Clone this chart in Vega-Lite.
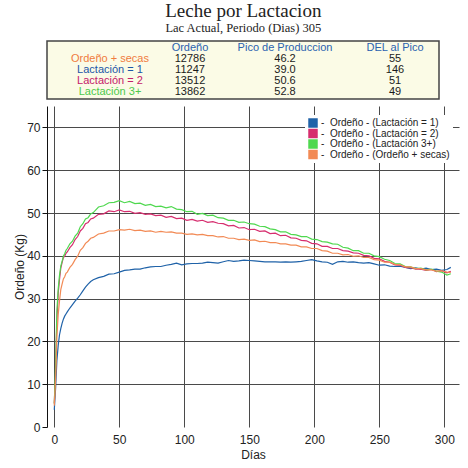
{
  "$schema": "https://vega.github.io/schema/vega-lite/v6.json",
  "background": "white",
  "padding": {"left": 13, "top": 1, "right": 5, "bottom": 4},
  "title": {
    "text": "Leche por Lactacion",
    "subtitle": "Lac Actual, Periodo (Dias) 305",
    "font": "Liberation Serif",
    "fontSize": 19,
    "fontWeight": "normal",
    "color": "#222",
    "subtitleFont": "Liberation Serif",
    "subtitleFontSize": 12.5,
    "subtitleColor": "#222",
    "subtitlePadding": 1,
    "anchor": "middle",
    "dx": 7,
    "offset": 6
  },
  "spacing": 6,
  "resolve": {"scale": {"color": "independent"}},
  "vconcat": [
    {
      "width": 392,
      "height": 58,
      "view": {"fill": "#fbfbe6", "stroke": "#444", "strokeWidth": 1.5},
      "data": {"values": [
        {"fila": "Encabezado", "col": "Ordeño", "texto": "Ordeño"},
        {"fila": "Encabezado", "col": "Pico de Produccion", "texto": "Pico de Produccion"},
        {"fila": "Encabezado", "col": "DEL al Pico", "texto": "DEL al Pico"},
        {"fila": "Ordeño + secas", "col": "Grupo", "texto": "Ordeño + secas"},
        {"fila": "Ordeño + secas", "col": "Ordeño", "texto": "12786"},
        {"fila": "Ordeño + secas", "col": "Pico de Produccion", "texto": "46.2"},
        {"fila": "Ordeño + secas", "col": "DEL al Pico", "texto": "55"},
        {"fila": "Lactación = 1", "col": "Grupo", "texto": "Lactación = 1"},
        {"fila": "Lactación = 1", "col": "Ordeño", "texto": "11247"},
        {"fila": "Lactación = 1", "col": "Pico de Produccion", "texto": "39.0"},
        {"fila": "Lactación = 1", "col": "DEL al Pico", "texto": "146"},
        {"fila": "Lactación = 2", "col": "Grupo", "texto": "Lactación = 2"},
        {"fila": "Lactación = 2", "col": "Ordeño", "texto": "13512"},
        {"fila": "Lactación = 2", "col": "Pico de Produccion", "texto": "50.6"},
        {"fila": "Lactación = 2", "col": "DEL al Pico", "texto": "51"},
        {"fila": "Lactación 3+", "col": "Grupo", "texto": "Lactación 3+"},
        {"fila": "Lactación 3+", "col": "Ordeño", "texto": "13862"},
        {"fila": "Lactación 3+", "col": "Pico de Produccion", "texto": "52.8"},
        {"fila": "Lactación 3+", "col": "DEL al Pico", "texto": "49"}
      ]},
      "encoding": {
        "x": {
          "field": "col", "type": "nominal",
          "scale": {"type": "point", "domain": ["Grupo", "Ordeño", "Pico de Produccion", "DEL al Pico"], "padding": 0.563},
          "axis": null
        },
        "y": {
          "field": "fila", "type": "nominal",
          "scale": {"type": "point", "domain": ["Encabezado", "Ordeño + secas", "Lactación = 1", "Lactación = 2", "Lactación 3+"], "padding": 0.664},
          "axis": null
        },
        "text": {"field": "texto"},
        "color": {
          "condition": [
            {"test": "datum.fila === 'Encabezado'", "value": "#2a62b0"},
            {"test": "datum.col !== 'Grupo'", "value": "#1a1a1a"}
          ],
          "field": "fila", "type": "nominal",
          "scale": {"domain": ["Ordeño + secas", "Lactación = 1", "Lactación = 2", "Lactación 3+"], "range": ["#f07c3e", "#1c56a6", "#c4206a", "#4cc94c"]},
          "legend": null
        }
      },
      "layer": [
        {
          "transform": [{"filter": "datum.col === 'Grupo' || datum.col === 'DEL al Pico'"}],
          "mark": {"type": "text", "font": "Liberation Sans", "fontSize": 11, "dx": 9.5}
        },
        {
          "transform": [{"filter": "datum.col === 'Ordeño' || datum.col === 'Pico de Produccion'"}],
          "mark": {"type": "text", "font": "Liberation Sans", "fontSize": 11, "dx": -5.5}
        }
      ]
    },
    {
      "width": 412,
      "height": 321,
      "view": {"stroke": null},
      "data": {"values": [
        {"dia":0,"grupo":"Lactación = 1","kg":4},{"dia":1,"grupo":"Lactación = 1","kg":9},{"dia":2,"grupo":"Lactación = 1","kg":15.5},{"dia":3,"grupo":"Lactación = 1","kg":19},{"dia":4,"grupo":"Lactación = 1","kg":21.5},{"dia":5,"grupo":"Lactación = 1","kg":23},{"dia":6,"grupo":"Lactación = 1","kg":24.2},{"dia":7,"grupo":"Lactación = 1","kg":25.2},{"dia":8,"grupo":"Lactación = 1","kg":25.9},{"dia":9,"grupo":"Lactación = 1","kg":26.4},{"dia":10,"grupo":"Lactación = 1","kg":26.9},{"dia":12,"grupo":"Lactación = 1","kg":27.8},{"dia":14,"grupo":"Lactación = 1","kg":28.6},{"dia":16,"grupo":"Lactación = 1","kg":29.4},{"dia":18,"grupo":"Lactación = 1","kg":30.1},{"dia":20,"grupo":"Lactación = 1","kg":30.9},{"dia":22,"grupo":"Lactación = 1","kg":31.8},{"dia":24,"grupo":"Lactación = 1","kg":32.7},{"dia":26,"grupo":"Lactación = 1","kg":33.4},{"dia":28,"grupo":"Lactación = 1","kg":34.0},{"dia":30,"grupo":"Lactación = 1","kg":34.4},{"dia":34,"grupo":"Lactación = 1","kg":34.9},{"dia":38,"grupo":"Lactación = 1","kg":35.2},{"dia":42,"grupo":"Lactación = 1","kg":35.7},{"dia":46,"grupo":"Lactación = 1","kg":35.8},{"dia":50,"grupo":"Lactación = 1","kg":36.2},{"dia":54,"grupo":"Lactación = 1","kg":36.6},{"dia":58,"grupo":"Lactación = 1","kg":36.7},{"dia":62,"grupo":"Lactación = 1","kg":36.9},{"dia":66,"grupo":"Lactación = 1","kg":36.9},{"dia":70,"grupo":"Lactación = 1","kg":37.2},{"dia":74,"grupo":"Lactación = 1","kg":37.4},{"dia":78,"grupo":"Lactación = 1","kg":37.5},{"dia":82,"grupo":"Lactación = 1","kg":37.5},{"dia":86,"grupo":"Lactación = 1","kg":37.8},{"dia":90,"grupo":"Lactación = 1","kg":38.0},{"dia":94,"grupo":"Lactación = 1","kg":38.3},{"dia":98,"grupo":"Lactación = 1","kg":37.9},{"dia":102,"grupo":"Lactación = 1","kg":38.1},{"dia":106,"grupo":"Lactación = 1","kg":38.2},{"dia":110,"grupo":"Lactación = 1","kg":38.2},{"dia":114,"grupo":"Lactación = 1","kg":38.3},{"dia":118,"grupo":"Lactación = 1","kg":38.5},{"dia":122,"grupo":"Lactación = 1","kg":38.4},{"dia":126,"grupo":"Lactación = 1","kg":38.3},{"dia":130,"grupo":"Lactación = 1","kg":38.6},{"dia":134,"grupo":"Lactación = 1","kg":38.9},{"dia":138,"grupo":"Lactación = 1","kg":38.7},{"dia":142,"grupo":"Lactación = 1","kg":38.8},{"dia":146,"grupo":"Lactación = 1","kg":39.0},{"dia":150,"grupo":"Lactación = 1","kg":38.9},{"dia":154,"grupo":"Lactación = 1","kg":38.8},{"dia":158,"grupo":"Lactación = 1","kg":38.7},{"dia":162,"grupo":"Lactación = 1","kg":38.6},{"dia":166,"grupo":"Lactación = 1","kg":38.6},{"dia":170,"grupo":"Lactación = 1","kg":38.6},{"dia":174,"grupo":"Lactación = 1","kg":38.5},{"dia":178,"grupo":"Lactación = 1","kg":38.6},{"dia":182,"grupo":"Lactación = 1","kg":38.5},{"dia":186,"grupo":"Lactación = 1","kg":38.6},{"dia":190,"grupo":"Lactación = 1","kg":38.7},{"dia":194,"grupo":"Lactación = 1","kg":38.9},{"dia":198,"grupo":"Lactación = 1","kg":39.1},{"dia":202,"grupo":"Lactación = 1","kg":38.8},{"dia":206,"grupo":"Lactación = 1","kg":38.6},{"dia":210,"grupo":"Lactación = 1","kg":38.5},{"dia":214,"grupo":"Lactación = 1","kg":38.0},{"dia":218,"grupo":"Lactación = 1","kg":38.6},{"dia":222,"grupo":"Lactación = 1","kg":38.7},{"dia":226,"grupo":"Lactación = 1","kg":38.5},{"dia":230,"grupo":"Lactación = 1","kg":38.6},{"dia":234,"grupo":"Lactación = 1","kg":38.4},{"dia":238,"grupo":"Lactación = 1","kg":38.3},{"dia":242,"grupo":"Lactación = 1","kg":38.4},{"dia":246,"grupo":"Lactación = 1","kg":38.1},{"dia":250,"grupo":"Lactación = 1","kg":37.8},{"dia":254,"grupo":"Lactación = 1","kg":37.9},{"dia":258,"grupo":"Lactación = 1","kg":37.6},{"dia":262,"grupo":"Lactación = 1","kg":37.5},{"dia":266,"grupo":"Lactación = 1","kg":37.6},{"dia":270,"grupo":"Lactación = 1","kg":37.3},{"dia":274,"grupo":"Lactación = 1","kg":37.0},{"dia":278,"grupo":"Lactación = 1","kg":37.2},{"dia":282,"grupo":"Lactación = 1","kg":36.9},{"dia":286,"grupo":"Lactación = 1","kg":37.1},{"dia":290,"grupo":"Lactación = 1","kg":36.8},{"dia":294,"grupo":"Lactación = 1","kg":36.9},{"dia":298,"grupo":"Lactación = 1","kg":36.6},{"dia":302,"grupo":"Lactación = 1","kg":36.8},{"dia":305,"grupo":"Lactación = 1","kg":37.3},
        {"dia":0,"grupo":"Lactación = 2","kg":5.5},{"dia":1,"grupo":"Lactación = 2","kg":13.0},{"dia":2,"grupo":"Lactación = 2","kg":25.0},{"dia":3,"grupo":"Lactación = 2","kg":31.2},{"dia":4,"grupo":"Lactación = 2","kg":34.4},{"dia":5,"grupo":"Lactación = 2","kg":37.1},{"dia":6,"grupo":"Lactación = 2","kg":38.4},{"dia":7,"grupo":"Lactación = 2","kg":39.6},{"dia":8,"grupo":"Lactación = 2","kg":39.9},{"dia":9,"grupo":"Lactación = 2","kg":40.6},{"dia":10,"grupo":"Lactación = 2","kg":40.9},{"dia":12,"grupo":"Lactación = 2","kg":41.9},{"dia":14,"grupo":"Lactación = 2","kg":42.6},{"dia":16,"grupo":"Lactación = 2","kg":43.8},{"dia":18,"grupo":"Lactación = 2","kg":44.5},{"dia":20,"grupo":"Lactación = 2","kg":45.8},{"dia":22,"grupo":"Lactación = 2","kg":46.4},{"dia":24,"grupo":"Lactación = 2","kg":47.5},{"dia":26,"grupo":"Lactación = 2","kg":47.8},{"dia":28,"grupo":"Lactación = 2","kg":48.6},{"dia":30,"grupo":"Lactación = 2","kg":48.8},{"dia":34,"grupo":"Lactación = 2","kg":49.7},{"dia":38,"grupo":"Lactación = 2","kg":49.8},{"dia":42,"grupo":"Lactación = 2","kg":50.5},{"dia":46,"grupo":"Lactación = 2","kg":50.3},{"dia":50,"grupo":"Lactación = 2","kg":50.7},{"dia":54,"grupo":"Lactación = 2","kg":50.3},{"dia":58,"grupo":"Lactación = 2","kg":50.4},{"dia":62,"grupo":"Lactación = 2","kg":49.9},{"dia":66,"grupo":"Lactación = 2","kg":50.1},{"dia":70,"grupo":"Lactación = 2","kg":49.7},{"dia":74,"grupo":"Lactación = 2","kg":49.8},{"dia":78,"grupo":"Lactación = 2","kg":49.4},{"dia":82,"grupo":"Lactación = 2","kg":49.5},{"dia":86,"grupo":"Lactación = 2","kg":49.0},{"dia":90,"grupo":"Lactación = 2","kg":49.2},{"dia":94,"grupo":"Lactación = 2","kg":48.7},{"dia":98,"grupo":"Lactación = 2","kg":48.8},{"dia":102,"grupo":"Lactación = 2","kg":48.3},{"dia":106,"grupo":"Lactación = 2","kg":48.5},{"dia":110,"grupo":"Lactación = 2","kg":48.1},{"dia":114,"grupo":"Lactación = 2","kg":48.3},{"dia":118,"grupo":"Lactación = 2","kg":47.8},{"dia":122,"grupo":"Lactación = 2","kg":48.0},{"dia":126,"grupo":"Lactación = 2","kg":47.6},{"dia":130,"grupo":"Lactación = 2","kg":47.5},{"dia":134,"grupo":"Lactación = 2","kg":47.0},{"dia":138,"grupo":"Lactación = 2","kg":47.1},{"dia":142,"grupo":"Lactación = 2","kg":46.5},{"dia":146,"grupo":"Lactación = 2","kg":46.6},{"dia":150,"grupo":"Lactación = 2","kg":46.1},{"dia":154,"grupo":"Lactación = 2","kg":46.2},{"dia":158,"grupo":"Lactación = 2","kg":45.7},{"dia":162,"grupo":"Lactación = 2","kg":45.8},{"dia":166,"grupo":"Lactación = 2","kg":45.2},{"dia":170,"grupo":"Lactación = 2","kg":45.3},{"dia":174,"grupo":"Lactación = 2","kg":44.7},{"dia":178,"grupo":"Lactación = 2","kg":44.8},{"dia":182,"grupo":"Lactación = 2","kg":44.2},{"dia":186,"grupo":"Lactación = 2","kg":44.1},{"dia":190,"grupo":"Lactación = 2","kg":43.6},{"dia":194,"grupo":"Lactación = 2","kg":43.5},{"dia":198,"grupo":"Lactación = 2","kg":42.9},{"dia":202,"grupo":"Lactación = 2","kg":42.8},{"dia":206,"grupo":"Lactación = 2","kg":42.2},{"dia":210,"grupo":"Lactación = 2","kg":42.2},{"dia":214,"grupo":"Lactación = 2","kg":41.7},{"dia":218,"grupo":"Lactación = 2","kg":41.7},{"dia":222,"grupo":"Lactación = 2","kg":41.2},{"dia":226,"grupo":"Lactación = 2","kg":41.1},{"dia":230,"grupo":"Lactación = 2","kg":40.7},{"dia":234,"grupo":"Lactación = 2","kg":40.6},{"dia":238,"grupo":"Lactación = 2","kg":40.1},{"dia":242,"grupo":"Lactación = 2","kg":40.0},{"dia":246,"grupo":"Lactación = 2","kg":39.4},{"dia":250,"grupo":"Lactación = 2","kg":39.3},{"dia":254,"grupo":"Lactación = 2","kg":38.7},{"dia":258,"grupo":"Lactación = 2","kg":38.5},{"dia":262,"grupo":"Lactación = 2","kg":37.9},{"dia":266,"grupo":"Lactación = 2","kg":37.8},{"dia":270,"grupo":"Lactación = 2","kg":37.3},{"dia":274,"grupo":"Lactación = 2","kg":37.2},{"dia":278,"grupo":"Lactación = 2","kg":36.9},{"dia":282,"grupo":"Lactación = 2","kg":36.9},{"dia":286,"grupo":"Lactación = 2","kg":36.6},{"dia":290,"grupo":"Lactación = 2","kg":36.8},{"dia":294,"grupo":"Lactación = 2","kg":36.3},{"dia":298,"grupo":"Lactación = 2","kg":36.5},{"dia":302,"grupo":"Lactación = 2","kg":36.0},{"dia":305,"grupo":"Lactación = 2","kg":36.4},
        {"dia":0,"grupo":"Lactación 3+","kg":5.5},{"dia":1,"grupo":"Lactación 3+","kg":14.0},{"dia":2,"grupo":"Lactación 3+","kg":27.0},{"dia":3,"grupo":"Lactación 3+","kg":32.2},{"dia":4,"grupo":"Lactación 3+","kg":35.4},{"dia":5,"grupo":"Lactación 3+","kg":37.6},{"dia":6,"grupo":"Lactación 3+","kg":38.7},{"dia":7,"grupo":"Lactación 3+","kg":39.9},{"dia":8,"grupo":"Lactación 3+","kg":40.5},{"dia":9,"grupo":"Lactación 3+","kg":41.3},{"dia":10,"grupo":"Lactación 3+","kg":41.7},{"dia":12,"grupo":"Lactación 3+","kg":42.8},{"dia":14,"grupo":"Lactación 3+","kg":43.4},{"dia":16,"grupo":"Lactación 3+","kg":44.6},{"dia":18,"grupo":"Lactación 3+","kg":45.3},{"dia":20,"grupo":"Lactación 3+","kg":46.8},{"dia":22,"grupo":"Lactación 3+","kg":47.5},{"dia":24,"grupo":"Lactación 3+","kg":48.6},{"dia":26,"grupo":"Lactación 3+","kg":48.9},{"dia":28,"grupo":"Lactación 3+","kg":49.8},{"dia":30,"grupo":"Lactación 3+","kg":50.1},{"dia":34,"grupo":"Lactación 3+","kg":51.4},{"dia":38,"grupo":"Lactación 3+","kg":51.7},{"dia":42,"grupo":"Lactación 3+","kg":52.4},{"dia":46,"grupo":"Lactación 3+","kg":52.5},{"dia":50,"grupo":"Lactación 3+","kg":52.9},{"dia":54,"grupo":"Lactación 3+","kg":52.4},{"dia":58,"grupo":"Lactación 3+","kg":52.7},{"dia":62,"grupo":"Lactación 3+","kg":52.2},{"dia":66,"grupo":"Lactación 3+","kg":52.3},{"dia":70,"grupo":"Lactación 3+","kg":51.8},{"dia":74,"grupo":"Lactación 3+","kg":52.0},{"dia":78,"grupo":"Lactación 3+","kg":51.5},{"dia":82,"grupo":"Lactación 3+","kg":51.6},{"dia":86,"grupo":"Lactación 3+","kg":51.2},{"dia":90,"grupo":"Lactación 3+","kg":51.5},{"dia":94,"grupo":"Lactación 3+","kg":50.9},{"dia":98,"grupo":"Lactación 3+","kg":50.8},{"dia":102,"grupo":"Lactación 3+","kg":50.3},{"dia":106,"grupo":"Lactación 3+","kg":50.4},{"dia":110,"grupo":"Lactación 3+","kg":49.7},{"dia":114,"grupo":"Lactación 3+","kg":49.9},{"dia":118,"grupo":"Lactación 3+","kg":49.4},{"dia":122,"grupo":"Lactación 3+","kg":49.5},{"dia":126,"grupo":"Lactación 3+","kg":48.9},{"dia":130,"grupo":"Lactación 3+","kg":48.8},{"dia":134,"grupo":"Lactación 3+","kg":48.3},{"dia":138,"grupo":"Lactación 3+","kg":48.3},{"dia":142,"grupo":"Lactación 3+","kg":47.8},{"dia":146,"grupo":"Lactación 3+","kg":47.9},{"dia":150,"grupo":"Lactación 3+","kg":47.5},{"dia":154,"grupo":"Lactación 3+","kg":47.4},{"dia":158,"grupo":"Lactación 3+","kg":46.9},{"dia":162,"grupo":"Lactación 3+","kg":46.8},{"dia":166,"grupo":"Lactación 3+","kg":46.3},{"dia":170,"grupo":"Lactación 3+","kg":46.1},{"dia":174,"grupo":"Lactación 3+","kg":45.6},{"dia":178,"grupo":"Lactación 3+","kg":45.6},{"dia":182,"grupo":"Lactación 3+","kg":45.0},{"dia":186,"grupo":"Lactación 3+","kg":44.9},{"dia":190,"grupo":"Lactación 3+","kg":44.5},{"dia":194,"grupo":"Lactación 3+","kg":44.5},{"dia":198,"grupo":"Lactación 3+","kg":43.9},{"dia":202,"grupo":"Lactación 3+","kg":43.8},{"dia":206,"grupo":"Lactación 3+","kg":43.3},{"dia":210,"grupo":"Lactación 3+","kg":43.2},{"dia":214,"grupo":"Lactación 3+","kg":42.8},{"dia":218,"grupo":"Lactación 3+","kg":42.7},{"dia":222,"grupo":"Lactación 3+","kg":42.0},{"dia":226,"grupo":"Lactación 3+","kg":41.8},{"dia":230,"grupo":"Lactación 3+","kg":41.2},{"dia":234,"grupo":"Lactación 3+","kg":41.2},{"dia":238,"grupo":"Lactación 3+","kg":40.6},{"dia":242,"grupo":"Lactación 3+","kg":40.6},{"dia":246,"grupo":"Lactación 3+","kg":40.0},{"dia":250,"grupo":"Lactación 3+","kg":39.8},{"dia":254,"grupo":"Lactación 3+","kg":39.2},{"dia":258,"grupo":"Lactación 3+","kg":38.9},{"dia":262,"grupo":"Lactación 3+","kg":38.2},{"dia":266,"grupo":"Lactación 3+","kg":38.1},{"dia":270,"grupo":"Lactación 3+","kg":37.5},{"dia":274,"grupo":"Lactación 3+","kg":37.4},{"dia":278,"grupo":"Lactación 3+","kg":37.0},{"dia":282,"grupo":"Lactación 3+","kg":37.1},{"dia":286,"grupo":"Lactación 3+","kg":36.7},{"dia":290,"grupo":"Lactación 3+","kg":36.9},{"dia":294,"grupo":"Lactación 3+","kg":36.4},{"dia":298,"grupo":"Lactación 3+","kg":36.2},{"dia":302,"grupo":"Lactación 3+","kg":35.5},{"dia":305,"grupo":"Lactación 3+","kg":35.8},
        {"dia":0,"grupo":"Ordeño + secas","kg":5.0},{"dia":1,"grupo":"Ordeño + secas","kg":11.0},{"dia":2,"grupo":"Ordeño + secas","kg":21.0},{"dia":3,"grupo":"Ordeño + secas","kg":26.2},{"dia":4,"grupo":"Ordeño + secas","kg":29.4},{"dia":5,"grupo":"Ordeño + secas","kg":32.1},{"dia":6,"grupo":"Ordeño + secas","kg":33.4},{"dia":7,"grupo":"Ordeño + secas","kg":34.6},{"dia":8,"grupo":"Ordeño + secas","kg":35.1},{"dia":9,"grupo":"Ordeño + secas","kg":35.9},{"dia":10,"grupo":"Ordeño + secas","kg":36.2},{"dia":12,"grupo":"Ordeño + secas","kg":37.3},{"dia":14,"grupo":"Ordeño + secas","kg":38.0},{"dia":16,"grupo":"Ordeño + secas","kg":39.1},{"dia":18,"grupo":"Ordeño + secas","kg":39.9},{"dia":20,"grupo":"Ordeño + secas","kg":41.3},{"dia":22,"grupo":"Ordeño + secas","kg":41.9},{"dia":24,"grupo":"Ordeño + secas","kg":42.9},{"dia":26,"grupo":"Ordeño + secas","kg":43.4},{"dia":28,"grupo":"Ordeño + secas","kg":44.1},{"dia":30,"grupo":"Ordeño + secas","kg":44.3},{"dia":34,"grupo":"Ordeño + secas","kg":45.1},{"dia":38,"grupo":"Ordeño + secas","kg":45.3},{"dia":42,"grupo":"Ordeño + secas","kg":45.8},{"dia":46,"grupo":"Ordeño + secas","kg":45.8},{"dia":50,"grupo":"Ordeño + secas","kg":46.1},{"dia":54,"grupo":"Ordeño + secas","kg":46.0},{"dia":58,"grupo":"Ordeño + secas","kg":46.2},{"dia":62,"grupo":"Ordeño + secas","kg":45.9},{"dia":66,"grupo":"Ordeño + secas","kg":46.0},{"dia":70,"grupo":"Ordeño + secas","kg":45.7},{"dia":74,"grupo":"Ordeño + secas","kg":45.8},{"dia":78,"grupo":"Ordeño + secas","kg":45.5},{"dia":82,"grupo":"Ordeño + secas","kg":45.7},{"dia":86,"grupo":"Ordeño + secas","kg":45.5},{"dia":90,"grupo":"Ordeño + secas","kg":45.6},{"dia":94,"grupo":"Ordeño + secas","kg":45.3},{"dia":98,"grupo":"Ordeño + secas","kg":45.3},{"dia":102,"grupo":"Ordeño + secas","kg":45.0},{"dia":106,"grupo":"Ordeño + secas","kg":45.1},{"dia":110,"grupo":"Ordeño + secas","kg":44.9},{"dia":114,"grupo":"Ordeño + secas","kg":45.0},{"dia":118,"grupo":"Ordeño + secas","kg":44.7},{"dia":122,"grupo":"Ordeño + secas","kg":44.7},{"dia":126,"grupo":"Ordeño + secas","kg":44.4},{"dia":130,"grupo":"Ordeño + secas","kg":44.5},{"dia":134,"grupo":"Ordeño + secas","kg":44.1},{"dia":138,"grupo":"Ordeño + secas","kg":44.1},{"dia":142,"grupo":"Ordeño + secas","kg":43.8},{"dia":146,"grupo":"Ordeño + secas","kg":43.9},{"dia":150,"grupo":"Ordeño + secas","kg":43.6},{"dia":154,"grupo":"Ordeño + secas","kg":43.7},{"dia":158,"grupo":"Ordeño + secas","kg":43.3},{"dia":162,"grupo":"Ordeño + secas","kg":43.4},{"dia":166,"grupo":"Ordeño + secas","kg":43.1},{"dia":170,"grupo":"Ordeño + secas","kg":43.1},{"dia":174,"grupo":"Ordeño + secas","kg":42.8},{"dia":178,"grupo":"Ordeño + secas","kg":42.8},{"dia":182,"grupo":"Ordeño + secas","kg":42.5},{"dia":186,"grupo":"Ordeño + secas","kg":42.5},{"dia":190,"grupo":"Ordeño + secas","kg":42.1},{"dia":194,"grupo":"Ordeño + secas","kg":42.1},{"dia":198,"grupo":"Ordeño + secas","kg":41.7},{"dia":202,"grupo":"Ordeño + secas","kg":41.7},{"dia":206,"grupo":"Ordeño + secas","kg":41.2},{"dia":210,"grupo":"Ordeño + secas","kg":41.1},{"dia":214,"grupo":"Ordeño + secas","kg":40.6},{"dia":218,"grupo":"Ordeño + secas","kg":40.6},{"dia":222,"grupo":"Ordeño + secas","kg":40.2},{"dia":226,"grupo":"Ordeño + secas","kg":40.3},{"dia":230,"grupo":"Ordeño + secas","kg":39.9},{"dia":234,"grupo":"Ordeño + secas","kg":40.0},{"dia":238,"grupo":"Ordeño + secas","kg":39.6},{"dia":242,"grupo":"Ordeño + secas","kg":39.6},{"dia":246,"grupo":"Ordeño + secas","kg":39.1},{"dia":250,"grupo":"Ordeño + secas","kg":39.0},{"dia":254,"grupo":"Ordeño + secas","kg":38.5},{"dia":258,"grupo":"Ordeño + secas","kg":38.5},{"dia":262,"grupo":"Ordeño + secas","kg":38.0},{"dia":266,"grupo":"Ordeño + secas","kg":37.9},{"dia":270,"grupo":"Ordeño + secas","kg":37.4},{"dia":274,"grupo":"Ordeño + secas","kg":37.4},{"dia":278,"grupo":"Ordeño + secas","kg":37.0},{"dia":282,"grupo":"Ordeño + secas","kg":37.0},{"dia":286,"grupo":"Ordeño + secas","kg":36.7},{"dia":290,"grupo":"Ordeño + secas","kg":36.7},{"dia":294,"grupo":"Ordeño + secas","kg":36.4},{"dia":298,"grupo":"Ordeño + secas","kg":36.5},{"dia":302,"grupo":"Ordeño + secas","kg":36.2},{"dia":305,"grupo":"Ordeño + secas","kg":36.1}
      ]},
      "mark": {"type": "line", "strokeWidth": 1.2},
      "encoding": {
        "x": {
          "field": "dia", "type": "quantitative", "title": "Días",
          "scale": {"domain": [-5.6, 311.3], "nice": false, "zero": false},
          "axis": {"values": [0, 50, 100, 150, 200, 250, 300], "grid": true, "ticks": false, "domain": false, "labelPadding": 7, "titlePadding": 4}
        },
        "y": {
          "field": "kg", "type": "quantitative", "title": "Ordeño  (Kg)",
          "scale": {"domain": [0, 75], "nice": false},
          "axis": {
            "values": [0, 10, 20, 30, 40, 50, 60, 70],
            "grid": true,
            "gridColor": {"condition": {"test": "datum.value === 0", "value": "transparent"}, "value": "#4a4a4a"},
            "domain": true, "domainColor": "#111",
            "ticks": true, "tickSize": 5, "tickColor": "#111",
            "labelPadding": 2, "titlePadding": 0
          }
        },
        "color": {
          "field": "grupo", "type": "nominal",
          "scale": {"domain": ["Lactación = 1", "Lactación = 2", "Lactación 3+", "Ordeño + secas"], "range": ["#1f62a8", "#d62d6e", "#4fd84f", "#f28a55"]},
          "legend": {
            "title": null, "orient": "none", "legendX": 258, "legendY": 9,
            "fillColor": "white", "padding": 3,
            "symbolType": "square", "symbolSize": 90, "symbolStrokeWidth": 0,
            "labelFont": "Liberation Sans", "labelFontSize": 10, "labelColor": "#222",
            "labelOffset": 3, "rowPadding": 0.5,
            "labelExpr": "'- \u00a0Ordeño - (' + datum.label + ')'",
            "encode": {"symbols": {"update": {"fill": {"scale": "concat_1_color", "field": "value"}, "strokeWidth": {"value": 0}}}}
          }
        }
      }
    }
  ],
  "config": {
    "axis": {
      "labelFont": "Liberation Sans", "labelFontSize": 12, "labelColor": "#222",
      "titleFont": "Liberation Sans", "titleFontSize": 12, "titleFontWeight": "normal", "titleColor": "#222",
      "gridColor": "#4a4a4a", "gridWidth": 1
    }
  }
}
